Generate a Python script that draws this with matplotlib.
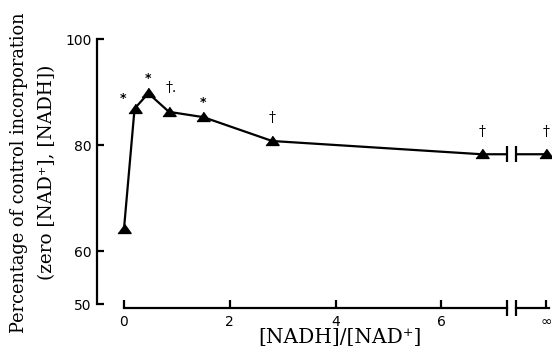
import numpy as np
import matplotlib
matplotlib.use("Agg")
import matplotlib.pyplot as plt

# ---- data ----
ratio = [0.0, 0.2, 0.46, 0.85, 1.5, 2.8, 6.76, np.inf]       # [NADH]/[NAD+]
percent = [64.2, 86.9, 89.8, 86.3, 85.3, 80.8, 78.3, 78.3]   # % of control incorporation
signif = ["", "*", "*", "†.", "*", "†", "†", "†"]
xticks_main = [0, 2, 4, 6]
xtick_main_labels = ["0", "2", "4", "6"]
yticks = [50, 60, 80, 100]
ytick_labels = ["50", "60", "80", "100"]
inf_label = "\u221e"

# ---- layout constants ----
INF_POS = 7.98
XL1 = (-0.51, 7.24)
XL2 = (7.41, 8.09)
YL = (49.3, 101.0)

fig = plt.figure(figsize=(5.52, 3.54), dpi=100)
W, H = 552, 354
bottom = 46 / H
height = (308 - 33.9) / H
ax1 = fig.add_axes([97 / W, bottom, (507 - 97) / W, height])
ax2 = fig.add_axes([516 / W, bottom, (552 - 516) / W, height])

xpos = [INF_POS if np.isinf(r) else r for r in ratio]

tri = [(-1, -0.6), (1, -0.6), (0, 0.8)]
lw = 1.6
for ax in (ax1, ax2):
    ax.plot(xpos, percent, color="black", lw=lw, marker=tri, ms=9.5,
            mfc="black", mec="black", zorder=3)
    ax.set_ylim(*YL)
    for s in ("top", "right"):
        ax.spines[s].set_visible(False)
    ax.spines["bottom"].set_linewidth(lw)
    ax.spines["left"].set_linewidth(lw)
    ax.patch.set_alpha(0)

ax1.set_xlim(*XL1)
ax2.set_xlim(*XL2)

# spines
ax1.spines["left"].set_bounds(50, 100)
ax1.spines["bottom"].set_bounds(0, XL1[1])
ax2.spines["left"].set_visible(False)
ax2.spines["bottom"].set_bounds(XL2[0], 8.03)

# ticks
tick_font = dict(family="DejaVu Sans", size=10)
ax1.set_xticks(xticks_main)
ax1.set_xticklabels(xtick_main_labels, **tick_font)
ax1.set_yticks(yticks)
ax1.set_yticklabels(ytick_labels, **tick_font)
ax1.tick_params(axis="x", direction="in", length=6, width=lw, pad=5)
ax1.tick_params(axis="y", direction="in", length=5, width=lw, pad=4)
ax2.set_xticks([INF_POS])
ax2.set_xticklabels([inf_label], **tick_font)
ax2.tick_params(axis="x", direction="in", length=6, width=lw, pad=5)
ax2.set_yticks([])

# axis break marks
bk = dict(color="black", marker="|", ms=12, mew=lw, clip_on=False, zorder=4)
ax1.plot([1], [0], transform=ax1.transAxes, **bk)
ax2.plot([0], [0], transform=ax2.transAxes, **bk)
ax1.plot([XL1[1]], [percent[-1]], **bk)
ax2.plot([XL2[0]], [percent[-1]], **bk)

# significance symbols
offsets = [(0, 0), (-12, 10), (0, 15), (2, 24), (0, 15), (0, 23), (0, 22), (0, 22)]
for x, y, s, (dx, dy) in zip(xpos, percent, signif, offsets):
    if not s:
        continue
    ax = ax2 if x > XL1[1] else ax1
    if s == "*":
        kw = dict(fontsize=9, family=["DejaVu Sans"], fontweight="bold")
    else:
        kw = dict(fontsize=10, family=["DejaVu Serif"])
    ax.annotate(s, xy=(x, y), xytext=(dx, dy), textcoords="offset pixels",
                ha="center", va="center", annotation_clip=False, **kw)

# labels
lab_font = ["DejaVu Serif"]
fig.text(19 / W, 1 - 173 / H, "Percentage of control incorporation",
         rotation=90, ha="center", va="center", fontsize=12.8, family=lab_font)
fig.text(47 / W, 1 - 172 / H, "(zero [NAD\u207a], [NADH])",
         rotation=90, ha="center", va="center", fontsize=13.2, family=lab_font)
fig.text(340 / W, 1 - 337 / H, "[NADH]/[NAD\u207a]",
         ha="center", va="center", fontsize=14.5, family=lab_font)

fig.savefig("out.png", dpi=100)
